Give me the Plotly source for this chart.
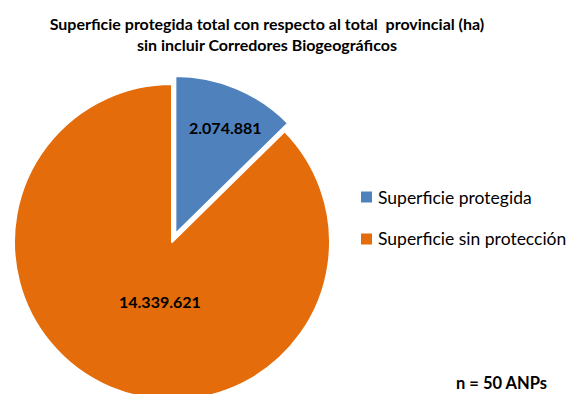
import plotly.graph_objects as go

# Provincial surface split (hectares)
labels = ["Superficie protegida", "Superficie sin protección"]
values = [2074881, 14339621]
colors = ["#4F81BD", "#E46C0A"]
pulls = [0.055, 0]

title_lines = [
    "Superficie protegida total con respecto al total  provincial (ha)",
    "sin incluir Corredores Biogeográficos",
]
note = "n = 50 ANPs"

W, H = 580, 410
FONT = "Lato, 'Open Sans', sans-serif"


def fmt(v):
    return f"{v:,}".replace(",", ".")


fig = go.Figure(
    go.Pie(
        labels=labels,
        values=values,
        sort=False,
        direction="clockwise",
        rotation=0,
        pull=pulls,
        marker=dict(colors=colors, line=dict(color="white", width=2)),
        textinfo="none",
        hoverinfo="label+value+percent",
        showlegend=False,
        domain=dict(x=[0.0091, 0.584], y=[0.0032, 0.8163]),
    )
)

# Value labels inside the slices
label_pos = [(225, 127), (160, 301)]
for v, (px, py) in zip(values, label_pos):
    fig.add_annotation(
        x=px / W, y=1 - py / H, xref="paper", yref="paper",
        text=f"<b>{fmt(v)}</b>", showarrow=False,
        xanchor="center", yanchor="middle",
        font=dict(family=FONT, size=16, color="black"),
    )

# Legend drawn as swatches + labels
leg_x = 361
leg_y = [197, 239]
for lab, col, yy in zip(labels, colors, leg_y):
    fig.add_shape(
        type="rect", xref="paper", yref="paper",
        x0=leg_x / W, x1=(leg_x + 11) / W,
        y0=1 - (yy + 5.5) / H, y1=1 - (yy - 5.5) / H,
        fillcolor=col, line=dict(width=0),
    )
    fig.add_annotation(
        x=(leg_x + 15) / W, y=1 - yy / H, xref="paper", yref="paper",
        text=lab, showarrow=False, xanchor="left", yanchor="middle",
        font=dict(family=FONT, size=17.5, color="black"),
    )

fig.add_annotation(
    x=549 / W, y=1 - 383 / H, xref="paper", yref="paper",
    text=f"<b>{note}</b>", showarrow=False, xanchor="right", yanchor="middle",
    font=dict(family=FONT, size=16.5, color="black"),
)

fig.update_layout(
    width=W, height=H,
    margin=dict(l=0, r=0, t=0, b=0),
    paper_bgcolor="white",
    separators=",.",
    title=dict(
        text="<b>" + "<br>".join(title_lines) + "</b>",
        x=267 / W, xanchor="center",
        y=1 - 30 / H, yanchor="middle",
        font=dict(family=FONT, size=16, color="black"),
    ),
)

fig.write_html("out.html")
